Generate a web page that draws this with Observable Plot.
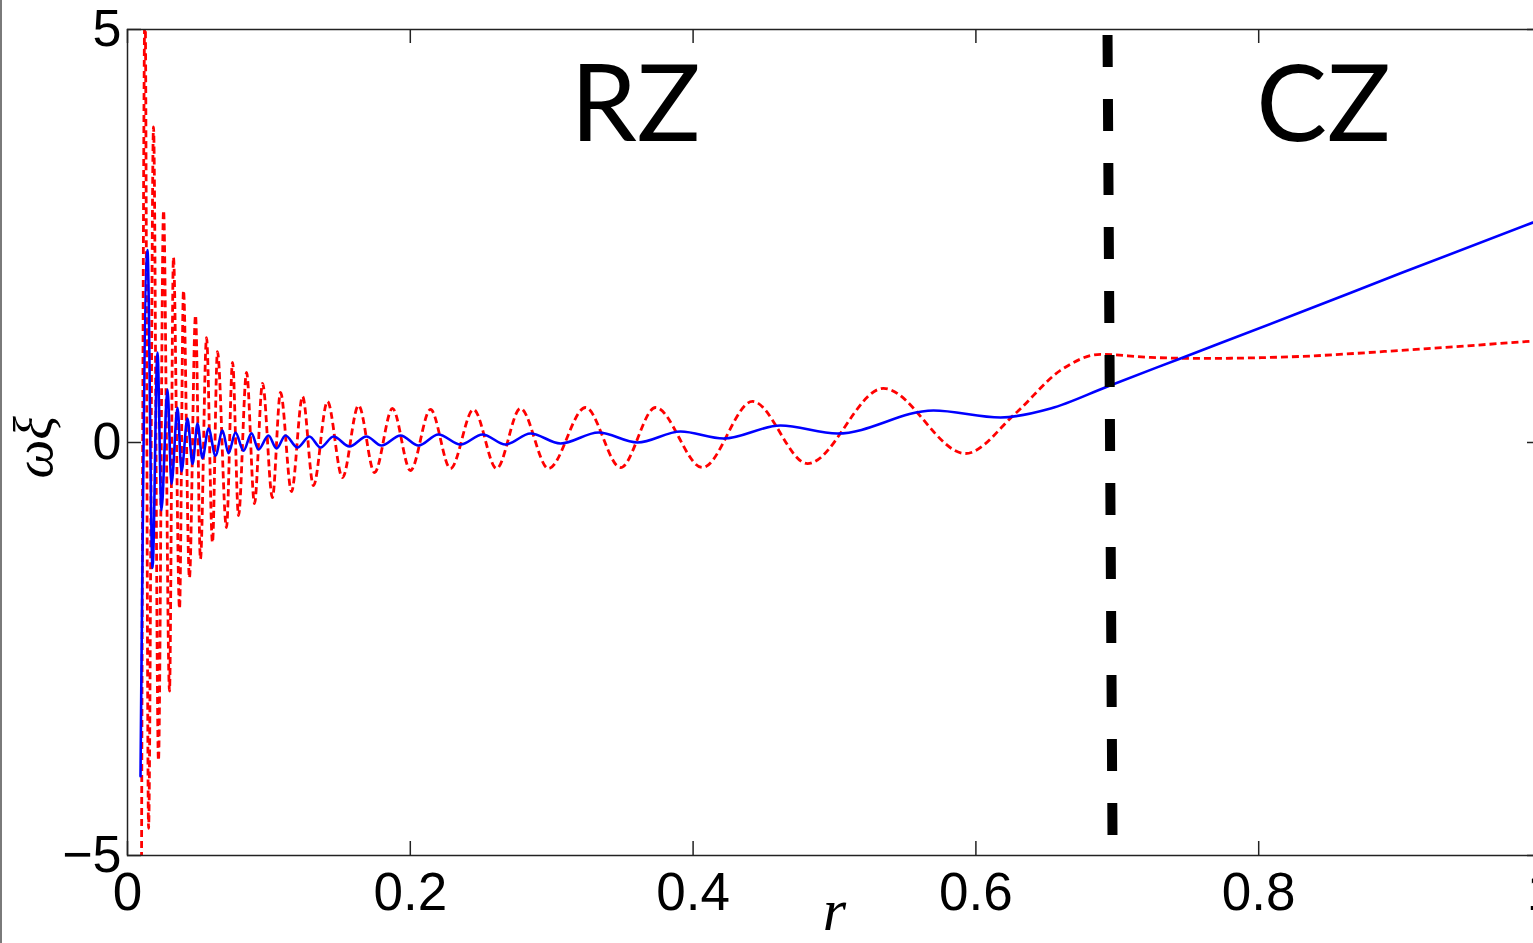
<!DOCTYPE html>
<html>
<head>
<meta charset="utf-8">
<script src="https://cdn.jsdelivr.net/npm/d3@7"></script>
<script src="https://cdn.jsdelivr.net/npm/@observablehq/plot@0.6"></script>
<style>
  html, body { margin: 0; padding: 0; overflow: hidden; background: white; }
  #wrap { position: relative; width: 1533px; height: 943px; overflow: hidden; }
  #edge { position: absolute; left: 0; top: 0; width: 2px; height: 943px; background: #7a7a7a; }
  #chart { position: absolute; left: 0; top: 0; width: 1560px; }
  #chart svg { max-width: none !important; width: 1560px; height: 943px; }
</style>
</head>
<body>
<div id="wrap"><div id="chart"></div><div id="edge"></div></div>
<script>
// ---- data ----
const xTicks = [0, 0.2, 0.4, 0.6, 0.8, 1];
const xTickLabels = ["0", "0.2", "0.4", "0.6", "0.8", "1"];
const yTicks = [-5, 0, 5];
const yTickLabels = ["\u22125", "0", "5"];

// blue solid curve (extrema)
const blueR = [0.0092, 0.0141, 0.0177, 0.0212, 0.0240, 0.0283, 0.0311, 0.0354, 0.0382, 0.0424,
  0.0460, 0.0495, 0.0530, 0.0573, 0.0622, 0.0672, 0.0714, 0.0764, 0.0820, 0.0877,
  0.0926, 0.0997, 0.1054, 0.1117, 0.1202, 0.1287, 0.1365, 0.1457, 0.1570, 0.1690,
  0.1796, 0.1931, 0.2058, 0.2199, 0.2355, 0.2511, 0.2673, 0.2850, 0.3062, 0.3331,
  0.3607, 0.3911, 0.4215, 0.4618, 0.5021, 0.5700, 0.6174, 0.6528, 0.6931, 0.7447,
  0.8296, 0.9003, 1.0];
const blueV = [-4.04, 2.33, -1.52, 1.09, -0.82, 0.64, -0.50, 0.42, -0.35, 0.29,
  -0.26, 0.23, -0.19, 0.17, -0.16, 0.145, -0.13, 0.12, -0.10, 0.11,
  -0.085, 0.085, -0.073, 0.085, -0.061, 0.073, -0.061, 0.073, -0.048, 0.073,
  -0.036, 0.085, -0.036, 0.097, -0.024, 0.097, -0.024, 0.109, -0.012, 0.121,
  0.0, 0.133, 0.048, 0.206, 0.109, 0.388, 0.303, 0.412, 0.679, 1.018,
  1.576, 2.048, 2.703];

// red dashed curve (extrema)
const redR = [0.0099, 0.0124, 0.0149, 0.0184, 0.0219, 0.0255, 0.0297, 0.0325, 0.0368, 0.0396,
  0.0438, 0.0481, 0.0516, 0.0559, 0.0601, 0.0636, 0.0700, 0.0743, 0.0785, 0.0842,
  0.0898, 0.0955, 0.1025, 0.1082, 0.1160, 0.1238, 0.1315, 0.1414, 0.1520, 0.1634,
  0.1747, 0.1874, 0.2001, 0.2143, 0.2284, 0.2447, 0.2610, 0.2779, 0.2977, 0.3239,
  0.3487, 0.3734, 0.4066, 0.4420, 0.4809, 0.5346, 0.5926, 0.6280, 0.6598, 0.6881,
  0.7235, 0.7588, 0.8296, 0.9003, 1.0];
const redV = [-5.31, 5.36, -4.67, 3.82, -3.85, 2.81, -3.01, 2.24, -2.01, 1.84,
  -1.64, 1.54, -1.41, 1.27, -1.21, 1.10, -1.03, 0.97, -0.885, 0.848,
  -0.739, 0.715, -0.667, 0.606, -0.594, 0.558, -0.521, 0.497, -0.424, 0.448,
  -0.364, 0.412, -0.339, 0.400, -0.315, 0.400, -0.315, 0.412, -0.315, 0.424,
  -0.303, 0.424, -0.303, 0.497, -0.255, 0.655, -0.133, 0.352, 0.873, 1.067,
  1.030, 1.018, 1.042, 1.115, 1.236];

// RZ / CZ boundary (thick dashed line)
const boundaryR = [0.6931, 0.6966];
const boundaryV = [4.933, -4.764];

// zone labels
const zoneNames = ["RZ", "CZ"];
const zoneR = [0.3593, 0.8458];
const zoneV = [4.06, 4.06];

// ---- build ----
const blue = blueR.map((r, i) => ({r, v: blueV[i]}));
const red = redR.map((r, i) => ({r, v: redV[i]}));
const boundary = boundaryR.map((r, i) => ({r, v: boundaryV[i]}));
const zones = zoneNames.map((t, i) => ({t, r: zoneR[i], v: zoneV[i]}));

const W = 1560, H = 943, mL = 127, mR = 19, mT = 29, mB = 88;
const plotW = W - mL - mR, plotH = H - mT - mB, tick = 14;
const ink = "#222";

const chart = Plot.plot({
  width: W, height: H,
  marginLeft: mL, marginRight: mR, marginTop: mT, marginBottom: mB,
  x: {domain: [0, 1]},
  y: {domain: [-5, 5]},
  style: {fontFamily: "'Liberation Sans', Arial, sans-serif", background: "white", overflow: "visible", maxWidth: "none"},
  marks: [
    Plot.line(red, {x: "r", y: "v", stroke: "#ff0000", strokeWidth: 2.8, strokeDasharray: "7,4", strokeLinecap: "butt", curve: "monotone-x", clip: true}),
    Plot.line(blue, {x: "r", y: "v", stroke: "#0000ff", strokeWidth: 2.6, curve: "monotone-x", clip: true}),
    Plot.line(boundary, {x: "r", y: "v", stroke: "black", strokeWidth: 10, strokeDasharray: "32,32", strokeLinecap: "butt"}),
    Plot.frame({stroke: ink, strokeWidth: 1.5}),
    Plot.ruleX(xTicks, {x: d => d, stroke: ink, strokeWidth: 1.5, insetTop: plotH - tick}),
    Plot.ruleX(xTicks, {x: d => d, stroke: ink, strokeWidth: 1.5, insetBottom: plotH - tick}),
    Plot.ruleY(yTicks, {y: d => d, stroke: ink, strokeWidth: 1.5, insetRight: plotW - tick}),
    Plot.ruleY(yTicks, {y: d => d, stroke: ink, strokeWidth: 1.5, insetLeft: plotW - tick}),
    Plot.axisX(xTicks, {anchor: "bottom", tickSize: 0, tickPadding: 17, fontSize: 53, fill: "black", label: null,
      tickFormat: d => xTickLabels[xTicks.indexOf(d)]}),
    Plot.axisY(yTicks, {anchor: "left", tickSize: 0, tickPadding: 6, fontSize: 52, fill: "black", label: null,
      tickFormat: d => yTickLabels[yTicks.indexOf(d)]}),
    Plot.text(["\u03C9\u03BE"], {frameAnchor: "left", dx: -93, dy: 36, rotate: -90, fontSize: 55, fontStyle: "italic",
      fontFamily: "'Liberation Serif', 'DejaVu Serif', serif", fill: "black"}),
    Plot.text(["r"], {frameAnchor: "bottom", dy: 74, fontSize: 60, fontStyle: "italic",
      fontFamily: "'Liberation Serif', 'DejaVu Serif', serif", fill: "black"}),
    Plot.text(zones, {x: "r", y: "v", text: "t", fontSize: 106, fontFamily: "Lato, 'Open Sans', sans-serif", fill: "black"})
  ]
});
document.getElementById("chart").appendChild(chart);
</script>
</body>
</html>
